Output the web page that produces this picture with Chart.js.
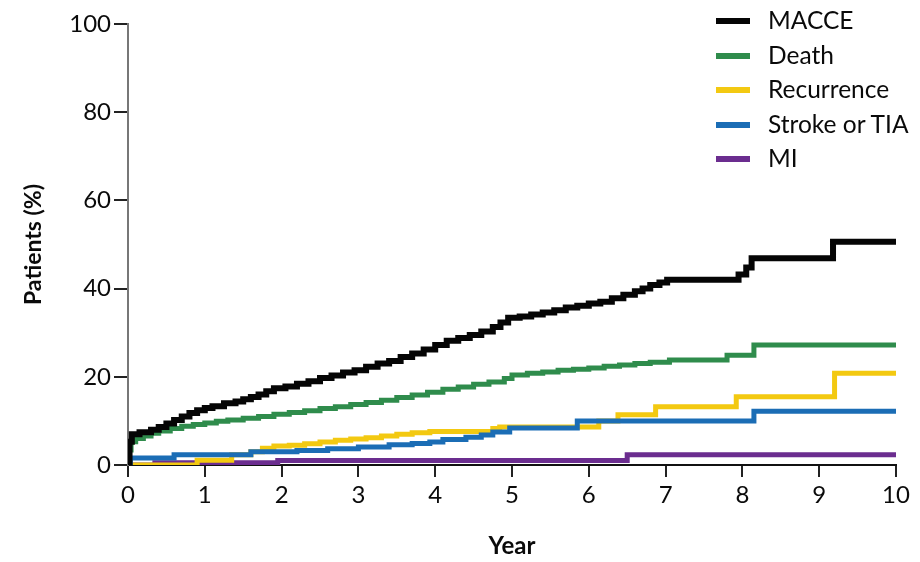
<!DOCTYPE html>
<html>
<head>
<meta charset="utf-8">
<script src="https://cdn.jsdelivr.net/npm/chart.js@4.4.1/dist/chart.umd.min.js"></script>
<style>
    body { margin: 0; background: #fff; }
    #wrap { position: relative; width: 920px; height: 562px; }
    #legend { position: absolute; left: 716px; top: 3px; font-family: Lato, sans-serif; font-size: 24.5px; color: #0a0a0a; }
    .item { height: 34.5px; line-height: 34.5px; white-space: nowrap; }
    .swatch { display: inline-block; width: 34px; height: 6px; vertical-align: middle; margin-right: 18px; margin-top: -3px; }
</style>
</head>
<body>
<div id="wrap">
    <canvas id="kmChart" width="920" height="562"></canvas>
    <div id="legend"></div>
</div>
<script>
// times (years) and cumulative % for each curve
var macceT = [0, 0.02, 0.05, 0.15, 0.3, 0.4, 0.5, 0.6, 0.7, 0.8, 0.9, 1.0, 1.1, 1.25, 1.4, 1.5, 1.6, 1.7, 1.8, 1.9, 2.05, 2.2, 2.35, 2.5, 2.65, 2.8, 2.95, 3.1, 3.25, 3.4, 3.55, 3.7, 3.85, 4.0, 4.15, 4.3, 4.45, 4.6, 4.75, 4.85, 4.95, 5.1, 5.25, 5.4, 5.55, 5.7, 5.85, 6.0, 6.15, 6.3, 6.45, 6.6, 6.7, 6.8, 6.92, 7.02, 7.95, 8.05, 8.12, 9.18, 10];
var macceV = [0, 5.3, 7.0, 7.4, 8.0, 8.6, 9.4, 10.2, 11.0, 11.8, 12.4, 12.9, 13.3, 14.0, 14.4, 14.9, 15.4, 16.0, 16.7, 17.4, 17.8, 18.4, 19.0, 19.7, 20.3, 21.0, 21.5, 22.3, 23.0, 23.6, 24.5, 25.3, 26.2, 27.2, 28.2, 28.8, 29.5, 30.3, 31.3, 32.3, 33.4, 33.7, 34.1, 34.6, 35.1, 35.7, 36.1, 36.6, 37.0, 37.8, 38.6, 39.4, 40.0, 40.8, 41.4, 42.0, 43.2, 44.8, 46.9, 50.6, 50.6];

var deathT = [0, 0.01, 0.04, 0.1, 0.2, 0.3, 0.4, 0.55, 0.7, 0.85, 1.0, 1.15, 1.3, 1.5, 1.7, 1.9, 2.1, 2.3, 2.5, 2.7, 2.9, 3.1, 3.3, 3.5, 3.7, 3.9, 4.1, 4.3, 4.5, 4.7, 4.9, 5.0, 5.2, 5.4, 5.6, 5.8, 6.0, 6.2, 6.4, 6.6, 6.8, 7.05, 7.8, 8.15, 10];
var deathV = [0, 3.4, 5.3, 6.0, 6.6, 7.2, 7.7, 8.3, 8.8, 9.2, 9.5, 9.9, 10.2, 10.6, 11.0, 11.5, 11.9, 12.3, 12.8, 13.2, 13.7, 14.2, 14.7, 15.3, 15.9, 16.5, 17.2, 17.7, 18.3, 18.8, 19.6, 20.4, 20.8, 21.1, 21.5, 21.7, 22.0, 22.4, 22.7, 23.0, 23.3, 23.8, 24.9, 27.2, 27.2];

var recurT = [0, 0.9, 1.35, 1.6, 1.75, 1.9, 2.1, 2.3, 2.5, 2.7, 2.9, 3.1, 3.3, 3.5, 3.7, 3.93, 4.75, 4.84, 6.13, 6.38, 6.87, 7.92, 9.2, 10];
var recurV = [0, 1.1, 2.3, 3.0, 3.8, 4.3, 4.5, 4.8, 5.2, 5.6, 5.9, 6.2, 6.6, 7.0, 7.3, 7.6, 8.3, 8.6, 10.0, 11.4, 13.2, 15.5, 20.8, 20.8];

var strokeT = [0, 0.03, 0.6, 1.6, 2.2, 2.6, 3.0, 3.4, 3.7, 3.93, 4.1, 4.4, 4.6, 4.75, 4.97, 5.85, 8.15, 10];
var strokeV = [0, 1.6, 2.3, 3.0, 3.3, 3.7, 4.1, 4.6, 4.9, 5.2, 5.8, 6.3, 6.8, 7.5, 8.4, 10.0, 12.2, 12.2];

var miT = [0, 0.35, 1.95, 6.5, 10];
var miV = [0, 0.5, 1.0, 2.3, 2.3];

var xTicks = [0, 1, 2, 3, 4, 5, 6, 7, 8, 9, 10];
var yTicks = [0, 20, 40, 60, 80, 100];

var seriesNames = ["MACCE", "Death", "Recurrence", "Stroke or TIA", "MI"];
var seriesColors = ["#050505", "#2f8c4c", "#f3c911", "#1b6db5", "#6b2d8f"];

function pts(t, v) {
    var out = [];
    for (var i = 0; i < t.length; i++) out.push({x: t[i], y: v[i]});
    return out;
}

function line(label, t, v, color, w) {
    return {
        label: label,
        data: pts(t, v),
        borderColor: color,
        backgroundColor: color,
        borderWidth: w,
        stepped: true,
        pointRadius: 0,
        fill: false
    };
}

// first dataset is drawn on top
var datasets = [
    line(seriesNames[0], macceT, macceV, seriesColors[0], 6),
    line(seriesNames[1], deathT, deathV, seriesColors[1], 5),
    line(seriesNames[3], strokeT, strokeV, seriesColors[3], 5),
    line(seriesNames[2], recurT, recurV, seriesColors[2], 5),
    line(seriesNames[4], miT, miV, seriesColors[4], 5)
];

var fontFam = "Lato, 'DejaVu Sans', sans-serif";

new Chart(document.getElementById("kmChart"), {
    type: "line",
    data: { datasets: datasets },
    options: {
        responsive: false,
        animation: false,
        layout: { padding: { top: 24, right: 24, left: 0, bottom: 0 } },
        plugins: { legend: { display: false }, tooltip: { enabled: false } },
        scales: {
            x: {
                type: "linear",
                min: 0,
                max: 10,
                afterFit: function(scale) { scale.height = 97; },
                afterBuildTicks: function(scale) { scale.ticks = xTicks.map(function(v){ return {value: v}; }); },
                ticks: { color: "#0a0a0a", padding: 4, font: { family: fontFam, size: 24 } },
                grid: { drawOnChartArea: false, drawTicks: true, tickLength: 12, color: "#222", lineWidth: 2 },
                border: { display: true, color: "#111", width: 2 },
                title: { display: true, text: "Year", color: "#0a0a0a", padding: { top: 0, bottom: 1 }, font: { family: fontFam, size: 24, weight: "bold" } }
            },
            y: {
                min: 0,
                max: 100,
                afterFit: function(scale) { scale.width = 128; },
                afterBuildTicks: function(scale) { scale.ticks = yTicks.map(function(v){ return {value: v}; }); },
                ticks: { color: "#0a0a0a", padding: 3, font: { family: fontFam, size: 24 } },
                grid: { drawOnChartArea: false, drawTicks: true, tickLength: 14, color: "#222", lineWidth: 2 },
                border: { display: true, color: "#777", width: 2 },
                title: { display: true, text: "Patients (%)", color: "#0a0a0a", padding: { top: 20, bottom: 0 }, font: { family: fontFam, size: 23, weight: "bold" } }
            }
        }
    }
});

// legend, top right, in the original order
var legendHtml = "";
for (var i = 0; i < seriesNames.length; i++) {
    legendHtml += '<div class="item"><span class="swatch" style="background:' + seriesColors[i] + '"></span>' + seriesNames[i] + '</div>';
}
document.getElementById("legend").innerHTML = legendHtml;
</script>
</body>
</html>
